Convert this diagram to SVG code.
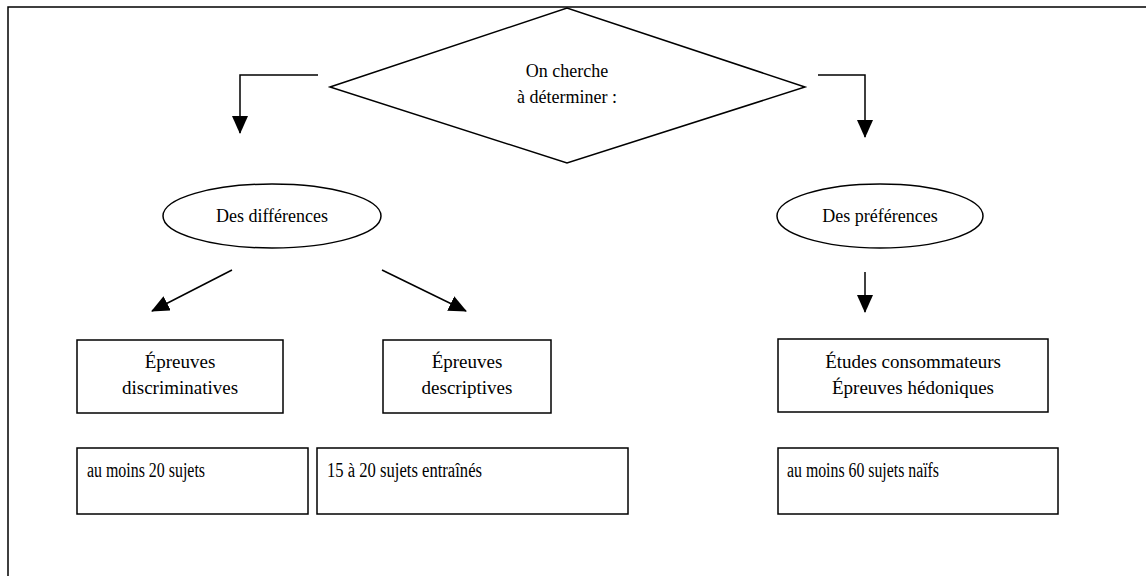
<svg xmlns="http://www.w3.org/2000/svg" width="1146" height="576" viewBox="0 0 1146 576">
<style>
.s{fill:#fff;stroke:#000;stroke-width:1.5}
.t{font-family:"Liberation Serif","Times New Roman",serif;font-size:18px;fill:#000}
.b{font-size:19px}
.d{font-size:20px}
.c{text-anchor:middle}
.l{fill:none;stroke:#000;stroke-width:1.5}
</style>
<defs>
<marker id="a" viewBox="0 0 18 16" refX="17" refY="8" markerWidth="18" markerHeight="16" markerUnits="userSpaceOnUse" orient="auto">
<path d="M0,0 L18,8 L0,16 z" fill="#000"/>
</marker>
</defs>
<rect width="1146" height="576" fill="#fff"/>
<path class="l" d="M8,577 V7 H1147" stroke-width="2"/>
<g id="decision">
<polygon class="s" points="330,87 567,8 805,87 567,163"/>
<text class="t c" x="567" y="77">On cherche</text>
<text class="t c" x="567" y="103">à déterminer :</text>
</g>
<g id="differences">
<ellipse class="s" cx="272" cy="216" rx="109" ry="32"/>
<text class="t c" x="272" y="222">Des différences</text>
</g>
<g id="preferences">
<ellipse class="s" cx="880" cy="216" rx="103" ry="32"/>
<text class="t c" x="880" y="222">Des préférences</text>
</g>
<g id="discriminatives">
<rect class="s" x="77" y="340" width="206" height="73"/>
<text class="t b c" x="180" y="368">Épreuves</text>
<text class="t b c" x="180" y="394">discriminatives</text>
</g>
<g id="descriptives">
<rect class="s" x="383" y="340" width="168" height="73"/>
<text class="t b c" x="467" y="368">Épreuves</text>
<text class="t b c" x="467" y="394">descriptives</text>
</g>
<g id="hedoniques">
<rect class="s" x="778" y="339" width="270" height="73"/>
<text class="t b c" x="913" y="368">Études consommateurs</text>
<text class="t b c" x="913" y="394">Épreuves hédoniques</text>
</g>
<g id="sujets20">
<rect class="s" x="77" y="448" width="231" height="66"/>
<text class="t d" x="87" y="477" textLength="118" lengthAdjust="spacingAndGlyphs">au moins 20 sujets</text>
</g>
<g id="sujets15">
<rect class="s" x="317" y="448" width="311" height="66"/>
<text class="t d" x="327" y="477" textLength="155" lengthAdjust="spacingAndGlyphs">15 à 20 sujets entraînés</text>
</g>
<g id="sujets60">
<rect class="s" x="778" y="448" width="280" height="66"/>
<text class="t d" x="787" y="477" textLength="152" lengthAdjust="spacingAndGlyphs">au moins 60 sujets naïfs</text>
</g>
<g id="connectors">
<path class="l" d="M318,75 H240 V133" marker-end="url(#a)"/>
<path class="l" d="M818,75 H865 V137" marker-end="url(#a)"/>
<path class="l" d="M232,270 L152,311" marker-end="url(#a)"/>
<path class="l" d="M382,270 L466,311" marker-end="url(#a)"/>
<path class="l" d="M865,272 V312" marker-end="url(#a)"/>
</g>
</svg>
